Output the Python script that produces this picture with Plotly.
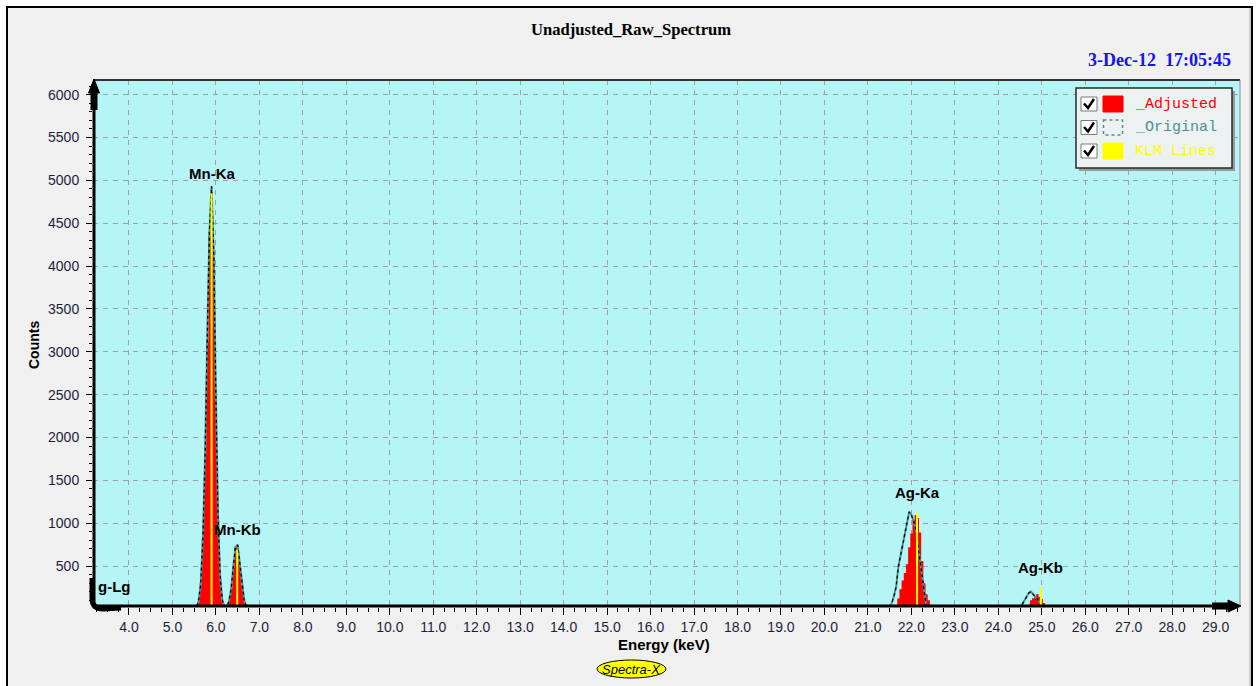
import plotly.graph_objects as go

# ---------------- spectrum data (channel energy in keV, counts) ----------------
mn_energy = [5.45, 5.50, 5.55, 5.60, 5.65, 5.70, 5.75, 5.80, 5.85, 5.90,
             5.95, 6.00, 6.05, 6.10, 6.15, 6.20, 6.25, 6.30, 6.35, 6.40,
             6.45, 6.50, 6.55, 6.60, 6.65, 6.70, 6.75, 6.80]
mn_original = [0, 4, 17, 86, 284, 811, 1769, 3142, 4396, 4931,
               4152, 2458, 1046, 355, 93, 31, 24, 84, 231, 492,
               725, 746, 537, 284, 99, 29, 6, 0]
mn_adjusted = [0, 5, 20, 90, 300, 820, 1790, 3120, 4360, 4850,
               4110, 2440, 1030, 350, 90, 30, 25, 82, 235, 485,
               715, 725, 530, 278, 98, 28, 6, 0]

agka_energy = [21.45, 21.50, 21.55, 21.60, 21.65, 21.70, 21.75, 21.80, 21.85, 21.90,
               21.95, 22.00, 22.05, 22.10, 22.15, 22.20, 22.25, 22.30, 22.35, 22.40,
               22.45, 22.50, 22.55]
agka_original = [0, 15, 70, 150, 260, 490, 620, 760, 900, 1020,
                 1133, 1095, 1030, 930, 730, 560, 380, 180, 20, 0,
                 0, 0, 0]
agka_adjusted = [0, 0, 0, 0, 20, 120, 230, 330, 420, 520,
                 720, 880, 1037, 1095, 1060, 890, 560, 300, 170, 100,
                 30, 5, 0]

agkb_energy = [24.45, 24.50, 24.55, 24.60, 24.65, 24.70, 24.75, 24.80, 24.85, 24.90,
               24.95, 25.00, 25.05, 25.10, 25.15, 25.20, 25.25, 25.30, 25.35, 25.40,
               25.45, 25.50, 25.55]
agkb_original = [0, 10, 50, 95, 145, 185, 201, 170, 135, 110,
                 85, 50, 20, 5, 0, 0, 0, 0, 0, 6,
                 10, 0, 0]
agkb_adjusted = [0, 0, 0, 0, 8, 40, 100, 125, 150, 173,
                 140, 115, 70, 30, 5, 0, 0, 0, 0, 0,
                 18, 0, 0]

# ---------------- KLM line markers ----------------
klm_labels = ["g-Lg", "Mn-Ka", "Mn-Kb", "Ag-Ka", "Ag-Kb"]
klm_energy = [3.52, 5.90, 6.49, 22.13, 24.98]
klm_height = [30, 4850, 690, 1120, 250]
klm_label_dx = [6, 0, 0, 0, 0]

# ---------------- axes ----------------
x_range = [3.172, 29.56]
y_range = [22, 6171]
y_tickvals = [500, 1000, 1500, 2000, 2500, 3000, 3500, 4000, 4500, 5000, 5500, 6000]

legend_names = ["_Adjusted", "_Original", "KLM Lines"]
legend_colors = ["#FF0000", "#4F8F8F", "#FFFF00"]

W, H = 1258, 686
L, R, T, B = 93, 1240, 80, 607


def px(x):
    return (x - L) / (R - L)


def py(y):
    return (B - y) / (B - T)


energy = mn_energy + agka_energy + agkb_energy
original = mn_original + agka_original + agkb_original
adjusted = mn_adjusted + agka_adjusted + agkb_adjusted

fig = go.Figure()

# adjusted spectrum: filled red histogram
fig.add_trace(go.Scatter(
    x=energy, y=adjusted, mode="lines",
    line=dict(color="#FF0000", width=0, shape="hvh"),
    fill="tozeroy", fillcolor="#FF0000", hoverinfo="skip", showlegend=False))

# original spectrum: teal outline with black dashes on top
fig.add_trace(go.Scatter(
    x=energy, y=original, mode="lines",
    line=dict(color="#4A9696", width=2),
    hoverinfo="skip", showlegend=False))
fig.add_trace(go.Scatter(
    x=energy, y=original, mode="lines",
    line=dict(color="#000000", width=1.3, dash="3px,3px"),
    hoverinfo="skip", showlegend=False))

# KLM marker lines
kx, ky = [], []
for e, h in zip(klm_energy, klm_height):
    kx += [e, e, None]
    ky += [0, h, None]
fig.add_trace(go.Scatter(
    x=kx, y=ky, mode="lines", line=dict(color="#FFFF00", width=2),
    hoverinfo="skip", showlegend=False))

annotations = []
label_font = dict(family="Liberation Sans, Arial, sans-serif", size=15, color="#000000")
for lab, e, h, dx in zip(klm_labels, klm_energy, klm_height, klm_label_dx):
    annotations.append(dict(
        x=e, y=h, xref="x", yref="y", text="<b>%s</b>" % lab, showarrow=False,
        xanchor="center", yanchor="middle", yshift=20, xshift=dx, font=label_font))


def ann(x, y, text, size, color="#000000", family="Liberation Sans, Arial, sans-serif",
        xanchor="center", textangle=0):
    annotations.append(dict(
        x=px(x), y=py(y), xref="paper", yref="paper", text=text, showarrow=False,
        xanchor=xanchor, yanchor="middle", textangle=textangle,
        font=dict(family=family, size=size, color=color)))


serif = "Times New Roman, Liberation Serif, serif"
ann(631, 30, "<b>Unadjusted_Raw_Spectrum</b>", 16.6, family=serif)
ann(1233, 60, "<b>3-Dec-12\u00a0\u00a017:05:45</b>", 18, color="#1414F0",
    family=serif, xanchor="right")
ann(34, 345, "<b>Counts</b>", 14, textangle=-90)
ann(664, 644, "<b>Energy (keV)</b>", 15)
ann(631.5, 669.5, "<i>Spectra-X</i>", 13)

shapes = []


def rect(x0, y0, x1, y1, fill, line_color=None, line_width=0, dash=None, layer="above"):
    ln = dict(width=line_width)
    if line_color:
        ln["color"] = line_color
    if dash:
        ln["dash"] = dash
    shapes.append(dict(type="rect", xref="paper", yref="paper",
                       x0=px(x0), x1=px(x1), y0=py(y0), y1=py(y1),
                       fillcolor=fill, line=ln, layer=layer))


def seg(x0, y0, x1, y1, color, width):
    shapes.append(dict(type="line", xref="paper", yref="paper",
                       x0=px(x0), x1=px(x1), y0=py(y0), y1=py(y1),
                       line=dict(color=color, width=width)))


def path(cmds, fill, color, width):
    parts = []
    for c in cmds:
        if isinstance(c, str):
            parts.append(c)
        else:
            parts.append("%.5f,%.5f" % (px(c[0]), py(c[1])))
    shapes.append(dict(type="path", xref="paper", yref="paper", path=" ".join(parts),
                       fillcolor=fill, line=dict(color=color, width=width)))


# white surround and window frame
rect(0, 0, 7, 690, "#FFFFFF")
rect(0, 0, 1258, 7, "#FFFFFF")
rect(1252.5, 0, 1258, 690, "#FFFFFF")
rect(7, 7, 1252, 700, "rgba(0,0,0,0)", "#000000", 2)
seg(1250, 8, 1250, 686, "#A8A8A8", 1)

# plot frame
seg(93, 80, 1240, 80, "#333333", 2)
seg(1240, 80, 1240, 607, "#8A8A8A", 1)

# y axis arrow
seg(94, 604, 94, 92, "#000000", 3)
rect(90.5, 92, 97.5, 110, "#000000")
path(["M", (94, 79), "L", (88.5, 93), "L", (99.5, 93), "Z"], "#000000", "#000000", 1)
# x axis arrow
seg(96, 606, 1230, 606, "#000000", 3)
rect(1212, 602.5, 1229, 609.5, "#000000")
path(["M", (1241, 606), "L", (1228, 600), "L", (1228, 612), "Z"], "#000000", "#000000", 1)
# corner tails
path(["M", (92, 578), "L", (92, 598), "Q", (92, 609), (103, 609), "L", (121, 608)],
     "rgba(0,0,0,0)", "#000000", 5)

# legend box
rect(1079, 91, 1235, 171, "#9A9A9A")
rect(1076, 88, 1232, 168, "#ECF1F1", "#2A2A2A", 1.5)
row_y = [104, 127.5, 151]
for i, (name, col, cy) in enumerate(zip(legend_names, legend_colors, row_y)):
    rect(1081, cy - 7, 1097, cy + 7, "#FFFFFF", "#7A7A7A", 1)
    path(["M", (1084, cy - 0.5), "L", (1088, cy + 4), "L", (1094, cy - 5)],
         "rgba(0,0,0,0)", "#000000", 2.5)
    if i == 1:
        rect(1103.5, cy - 7.5, 1122.5, cy + 7.5, "rgba(0,0,0,0)", "#4F8F8F", 1.5, dash="3px,3px")
    else:
        rect(1103, cy - 8, 1123, cy + 8, col, col, 1)
    ann(1133, cy, name, 15, color=col, family="Courier New, Liberation Mono, monospace",
        xanchor="left")

# badge
shapes.append(dict(type="circle", xref="paper", yref="paper",
                   x0=px(597), x1=px(666), y0=py(660), y1=py(678),
                   fillcolor="#FFFF00", line=dict(color="#000000", width=1)))

tick_font = dict(family="Liberation Sans, Arial, sans-serif", size=14, color="#1E1E3C")

fig.update_layout(
    width=W, height=H,
    margin=dict(l=L, r=W - R, t=T, b=H - B, pad=0),
    paper_bgcolor="#F0F0F0",
    plot_bgcolor="#B5F5F5",
    showlegend=False,
    shapes=shapes,
    annotations=annotations,
    xaxis=dict(
        range=x_range, tickmode="linear", tick0=4, dtick=1, tickformat=".1f",
        ticks="outside", ticklen=7, tickwidth=1, tickcolor="#000000",
        minor=dict(dtick=0.25, tick0=4, ticks="outside", ticklen=4, tickcolor="#000000",
                   showgrid=False),
        showgrid=True, gridcolor="#A0A0A0", gridwidth=1, griddash="5px,5px",
        zeroline=False, showline=False, tickfont=tick_font, fixedrange=True,
    ),
    yaxis=dict(
        range=y_range, tickmode="array", tickvals=y_tickvals,
        ticks="outside", ticklen=6, tickwidth=1, tickcolor="#000000",
        ticklabelstandoff=4,
        minor=dict(dtick=100, tick0=0, ticks="outside", ticklen=3, tickcolor="#000000",
                   showgrid=False),
        showgrid=True, gridcolor="#A0A0A0", gridwidth=1, griddash="5px,5px",
        zeroline=False, showline=False, tickfont=tick_font, fixedrange=True,
    ),
)

fig.write_html("out.html")
